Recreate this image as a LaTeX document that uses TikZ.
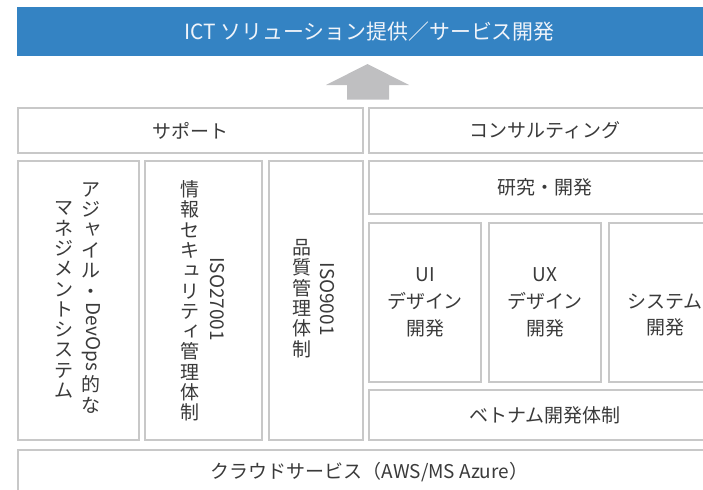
\documentclass[tikz,border=0pt]{standalone}
\usepackage{fontspec}
\setmainfont{Noto Sans CJK JP}
\usepackage{graphicx}

\definecolor{ictblue}{HTML}{3483C3}
\definecolor{titlewhite}{HTML}{F0F4FA}
\definecolor{panelgray}{HTML}{C8C8C8}
\definecolor{arrowgray}{HTML}{BFBFC1}
\definecolor{inkgray}{HTML}{3A3A3A}

% vertical (tategaki) column of characters
\ExplSyntaxOn
\NewDocumentCommand\tatebox{m}
 {
  \vbox:n
   {
    \baselineskip=1.07em \lineskip=0.25em \lineskiplimit=0pt
    \tl_map_inline:nn {#1} { \hbox_to_wd:nn {1em} { \hss ##1 \hss } }
   }
 }
\ExplSyntaxOff
\newcommand\yoko[1]{\raisebox{0.82em}{\rotatebox{-90}{#1}}}
\newcommand\sk[1]{\kern0.2em\raisebox{0.12em}{#1}}

\tikzset{
  panel/.style={draw=panelgray, line width=0.04cm, fill=white, inner sep=0pt,
    text=inkgray, font=\fontsize{10.8}{15.2}\selectfont, align=center},
  tate/.style={inner sep=0pt, text=inkgray, font=\fontsize{10.8}{15.2}\selectfont},
}

\begin{document}
\begin{tikzpicture}[x=0.02cm, y=-0.02cm]
\useasboundingbox (0,0) rectangle (703,490);
\clip (0,0) rectangle (703,490);
\node[fill=ictblue, inner sep=0pt, minimum width=14.1cm, minimum height=0.98cm, text=titlewhite, font=\fontsize{11.9}{14}\selectfont] (ict) at (369.5,31.5) {ICT ソリューション提供／サービス開発};
\fill[arrowgray] (367.5,64) -- (409,85) -- (389,85) -- (389,99.5) -- (347,99.5) -- (347,85) -- (326,85) -- cycle;
\node[panel, minimum width=6.9cm, minimum height=0.9cm] (support) at (190.5,130.5) {サポート};
\node[panel, minimum width=7.04cm, minimum height=0.9cm] (consult) at (545,130.5) {コンサルティング};
\node[panel, minimum width=2.42cm, minimum height=5.58cm] (agile) at (78.5,300.5) {};
\node[panel, minimum width=2.34cm, minimum height=5.58cm] (isms) at (203.5,300.5) {};
\node[panel, minimum width=1.88cm, minimum height=5.58cm] (qms) at (316,300.5) {};
\node[panel, minimum width=7.04cm, minimum height=1.06cm] (rnd) at (545,187.5) {研究・開発};
\node[panel, minimum width=2.24cm, minimum height=3.18cm] (ui) at (425,302.5) {UI\\デザイン\\開発};
\node[panel, minimum width=2.24cm, minimum height=3.18cm] (ux) at (545,302.5) {UX\\デザイン\\開発};
\node[panel, minimum width=2.24cm, minimum height=3.18cm] (sys) at (665,302.5) {};
\node[panel, minimum width=7.04cm, minimum height=1.0cm] (vietnam) at (545,415) {ベトナム開発体制};
\node[panel, minimum width=14.06cm, minimum height=0.9cm] (cloud) at (369.5,472.5) {クラウドサービス（AWS/MS Azure）};
% vertical labels, right line first
\node[tate] (agile1) at (91,298) {\tatebox{アジ{\sk{ャ}}イル・{\yoko{DevOps}}的な}};
\node[tate] (agile2) at (63.5,300) {\tatebox{マネジメントシステム}};
\node[tate] (isms1) at (217,299) {\tatebox{{\yoko{ISO27001}}}};
\node[tate] (isms2) at (190,301) {\tatebox{情報セキ{\sk{ュ}}リテ{\sk{ィ}}管理体制}};
\node[tate] (qms1) at (327.5,299) {\tatebox{{\yoko{ISO9001}}}};
\node[tate] (qms2) at (301.5,298.5) {\tatebox{品質管理体制}};
\node[tate, align=center] (systext) at (665,315) {システム\\開発};
\end{tikzpicture}
\end{document}
